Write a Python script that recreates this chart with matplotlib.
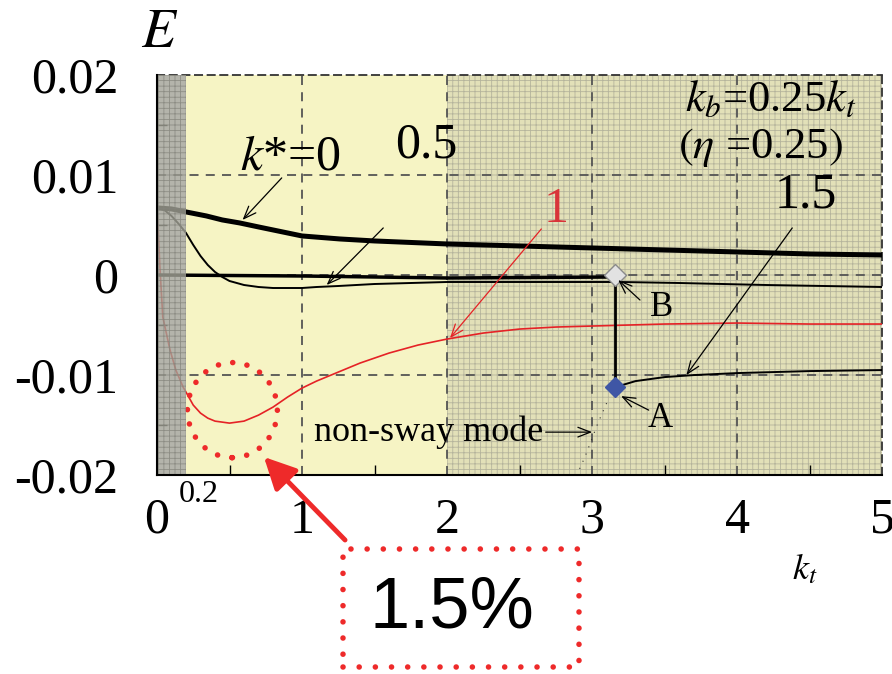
import numpy as np
import matplotlib.pyplot as plt
from matplotlib.patches import Ellipse, Rectangle, FancyArrowPatch

plt.rcParams['font.family'] = 'serif'
plt.rcParams['font.serif'] = ['Liberation Serif', 'DejaVu Serif']
plt.rcParams['mathtext.fontset'] = 'stix'
plt.rcParams['hatch.linewidth'] = 0.6

# k* = 0 (thick black)
kt_0 = [0, 0.1, 0.2, 0.34, 0.45, 0.57, 0.7, 0.8, 1.0, 1.26, 1.5, 2.0, 2.5, 3.0,
        3.5, 4.0, 4.5, 5.0]
E_0 = [0.0067, 0.0066, 0.0063, 0.0059, 0.0055, 0.0052, 0.0048, 0.0045, 0.0039,
       0.0036, 0.0034, 0.0031, 0.0029, 0.0027, 0.0025, 0.0023, 0.0021, 0.0020]

# k* = 0.5 (thin black)
kt_05 = [0, 0.05, 0.1, 0.15, 0.2, 0.25, 0.3, 0.35, 0.4, 0.45, 0.5, 0.6, 0.7, 0.8,
         0.9, 1.0, 1.1, 1.25, 1.5, 1.75, 2.0, 2.5, 3.2, 3.6, 4.2, 5.0]
E_05 = [0.0067, 0.0065, 0.0059, 0.0051, 0.0042, 0.0030, 0.0019, 0.0010, 0.0003,
        -0.0002, -0.0006, -0.0010, -0.0012, -0.0013, -0.0013, -0.0013, -0.0012,
        -0.0011, -0.0009, -0.0008, -0.0007, -0.0007, -0.0007, -0.0008, -0.0010,
        -0.0012]

# k* = 1 (red)
kt_1 = [0, 0.01, 0.02, 0.04, 0.09, 0.13, 0.18, 0.2, 0.25, 0.3, 0.35, 0.4, 0.45,
        0.5, 0.55, 0.6, 0.65, 0.7, 0.75, 0.8, 0.9, 1.0, 1.1, 1.2, 1.3, 1.4, 1.5,
        1.6, 1.7, 1.8, 1.9, 2.0, 2.25, 2.5, 2.75, 3.0, 3.5, 4.0, 4.5, 5.0]
E_1 = [0.0067, 0.0040, 0.0008, -0.0042, -0.0075, -0.0095, -0.0112, -0.0117,
       -0.0130, -0.0138, -0.0143, -0.0146, -0.0147, -0.0148, -0.0147, -0.0146,
       -0.0143, -0.0140, -0.0136, -0.0132, -0.0122, -0.0113, -0.0106, -0.0100,
       -0.0094, -0.0088, -0.0083, -0.0078, -0.0074, -0.0070, -0.0067, -0.0064,
       -0.0058, -0.0054, -0.0052, -0.0051, -0.0049, -0.0048, -0.0049, -0.0049]

# k* = 1.5: sway branch up to B, then jump to A and the non-sway branch
kt_15a = [0, 1.0, 2.0, 3.16]
E_15a = [0.0, -0.0001, -0.0003, -0.0002]
kt_15b = [3.16, 3.3, 3.5, 3.7, 4.0, 4.5, 5.0]
E_15b = [-0.0112, -0.0106, -0.0102, -0.0100, -0.0098, -0.0096, -0.0095]

kt_B, E_B = 3.16, 0.0
kt_A, E_A = 3.16, -0.0112

# faint non-sway mode trace
kt_ns = [3.1, 3.04, 2.95, 2.9]
E_ns = [-0.0128, -0.0148, -0.0182, -0.0198]

x_ticks = [0, 1, 2, 3, 4, 5]
y_ticks = [-0.02, -0.01, 0, 0.01, 0.02]
y_labels = ['-0.02', '-0.01', '0', '0.01', '0.02']

fig = plt.figure(figsize=(8.92, 6.74), dpi=100)
ax = fig.add_axes([0.176, 0.295, 0.813, 0.594])

# background zones
ax.axvspan(0.2, 2.0, facecolor='#f6f4c4', edgecolor='none', zorder=0)
ax.axvspan(2.0, 5.0, facecolor='#e2e0b8', edgecolor='#b5b49c', hatch='+++',
           linewidth=0, zorder=0)
ax.axvspan(0.0, 0.2, facecolor='#a2a296', edgecolor='#84847c', hatch='+++',
           linewidth=0, alpha=0.8, zorder=10)

# grid
for gx in [1, 2, 3, 4]:
    ax.axvline(gx, color='#555555', lw=1.3, ls=(0, (5, 4)), zorder=1)
for gy in [-0.01, 0, 0.01]:
    ax.axhline(gy, color='#555555', lw=1.3, ls=(0, (5, 4)), zorder=1)

# curves
ax.plot(kt_0, E_0, color='black', lw=3.6, zorder=4, solid_joinstyle='round')
ax.plot(kt_05, E_05, color='black', lw=1.4, zorder=4)
ax.plot(kt_1, E_1, color='#e52226', lw=1.2, zorder=4)
ax.plot(kt_15a, E_15a, color='black', lw=2.5, zorder=4)
ax.plot(kt_15b, E_15b, color='black', lw=1.4, zorder=4)
ax.plot([kt_B, kt_A], [E_B, E_A], color='black', lw=2.0, zorder=4)
ax.plot(kt_ns, E_ns, color='#333333', lw=0.8, ls=(0, (1, 6)), zorder=4)
ax.plot(kt_B, E_B, marker='D', ms=11, mfc='#e2e2e2', mec='#8a8a8a', mew=1, zorder=6)
ax.plot(kt_A, E_A, marker='D', ms=10, mfc='#3f56a5', mec='#3f56a5', zorder=6)

ax.set_xlim(0, 5)
ax.set_ylim(-0.02, 0.02)
ax.set_xticks(x_ticks)
ax.set_xticklabels([str(v) for v in x_ticks])
ax.set_yticks(y_ticks)
ax.set_yticklabels(y_labels)
ax.set_xticks([0.5, 1.5, 2.5, 3.5, 4.5], minor=True)
ax.set_yticks([-0.015, -0.005, 0.005, 0.015], minor=True)
ax.tick_params(axis='both', which='major', length=0, labelsize=36)
ax.tick_params(axis='x', which='major', pad=16)
ax.tick_params(axis='y', which='major', pad=28)
ax.tick_params(axis='both', which='minor', direction='in', length=7, width=1,
               top=False, right=False)

for s in ['left', 'bottom']:
    ax.spines[s].set_linewidth(1.5)
    ax.spines[s].set_zorder(11)
for s in ['top', 'right']:
    ax.spines[s].set_linestyle((0, (4, 3)))
    ax.spines[s].set_linewidth(1.3)
    ax.spines[s].set_color('#333333')

arrow = dict(arrowstyle='->,head_length=0.9,head_width=0.35', color='black',
             lw=0.9, shrinkA=0, shrinkB=0)
ax.annotate('', xy=(0.59, 0.0055), xytext=(0.86, 0.0097), arrowprops=arrow, zorder=7)
ax.text(0.92, 0.0118, r'$k$*=0', fontsize=36, ha='center', va='center', zorder=7)
ax.annotate('', xy=(1.17, -0.001), xytext=(1.56, 0.0047), arrowprops=arrow, zorder=7)
ax.text(1.86, 0.013, '0.5', fontsize=36, ha='center', va='center', zorder=7)
ax.annotate('', xy=(2.02, -0.0063), xytext=(2.65, 0.0046),
            arrowprops=dict(arrow, color='#e52226'), zorder=7)
ax.text(2.75, 0.0065, '1', fontsize=36, color='#d8343a', ha='center', va='center', zorder=7)
ax.annotate('', xy=(3.65, -0.01), xytext=(4.38, 0.0047), arrowprops=arrow, zorder=7)
ax.text(4.47, 0.008, '1.5', fontsize=36, ha='center', va='center', zorder=7)
ax.annotate('', xy=(3.18, -0.0005), xytext=(3.33, -0.0025), arrowprops=arrow, zorder=7)
ax.text(3.48, -0.0032, 'B', fontsize=25, ha='center', va='center', zorder=7)
ax.annotate('', xy=(3.2, -0.0121), xytext=(3.39, -0.0135), arrowprops=arrow, zorder=7)
ax.text(3.47, -0.0143, 'A', fontsize=25, ha='center', va='center', zorder=7)
ax.annotate('', xy=(3.0, -0.0157), xytext=(2.68, -0.0157), arrowprops=arrow, zorder=7)
ax.text(2.66, -0.0157, 'non-sway mode', fontsize=26, ha='right', va='center', zorder=7)
ax.text(4.23, 0.0175, r'$k_b$=0.25$k_t$', fontsize=32, ha='center', va='center', zorder=7)
ax.text(4.16, 0.0127, r'$(\eta$ =0.25$)$', fontsize=32, ha='center', va='center', zorder=7)
ax.text(0.15, -0.0205, '0.2', fontsize=23, ha='left', va='top', zorder=7)

# highlighted minimum
ring = Ellipse((0.52, -0.0135), 0.62, 0.0095, fill=False, edgecolor='#ee2a2a',
               lw=4, ls=(0, (0.01, 2.6)), zorder=8)
ring.set_capstyle('round')
ax.add_patch(ring)

fig.text(0.179, 0.951, r'$E$', fontsize=40, ha='center', va='center')
fig.text(0.902, 0.154, r'$k_t$', fontsize=26, ha='center', va='center')

box = Rectangle((343 / 892, 1 - 667 / 674), 236 / 892, 118 / 674, transform=fig.transFigure,
                fill=False, edgecolor='#ee2a2a', lw=4, ls=(0, (0.01, 2.9)))
box.set_capstyle('round')
fig.patches.append(box)
fig.text(452 / 892, 1 - 609 / 674, '1.5%', fontsize=52, family='Liberation Sans',
         ha='center', va='center')
fig.patches.append(FancyArrowPatch(
    (347 / 892, 1 - 542 / 674), (262 / 892, 1 - 455 / 674), transform=fig.transFigure,
    arrowstyle='-|>,head_length=1.6,head_width=0.8', color='#ee2a2a', lw=3.5,
    mutation_scale=12))

fig.savefig('out.png', dpi=100)
